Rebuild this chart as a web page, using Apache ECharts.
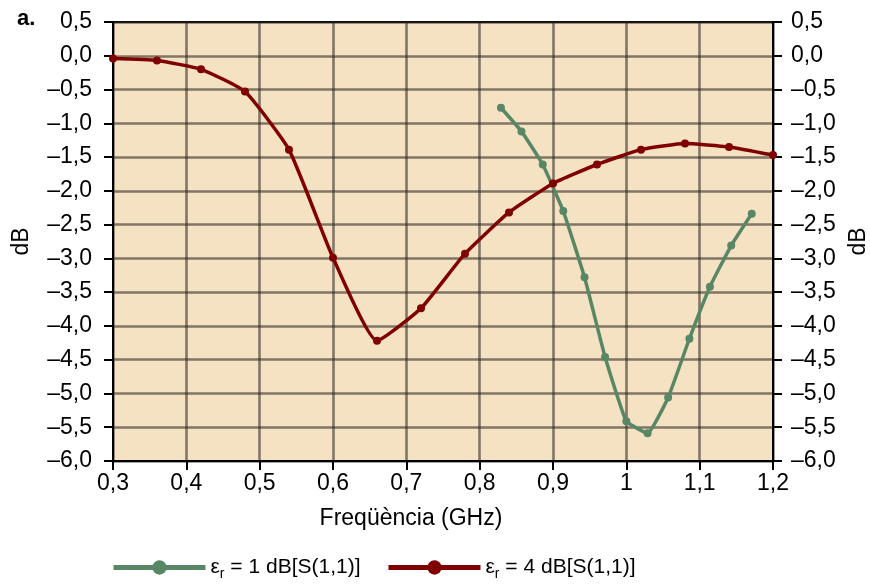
<!DOCTYPE html>
<html>
<head>
<meta charset="utf-8">
<script src="https://cdn.jsdelivr.net/npm/echarts@6/dist/echarts.min.js"></script>
<style>html,body{margin:0;padding:0;background:#fff}#c{width:870px;height:585px}</style>
</head>
<body>
<div id="c"></div>
<script>
// Data
const freqEr4 = [0.30, 0.36, 0.42, 0.48, 0.54, 0.60, 0.66, 0.72, 0.78, 0.84, 0.90, 0.96, 1.02, 1.08, 1.14, 1.20];
const dbEr4   = [-0.04, -0.07, -0.20, -0.53, -1.39, -2.99, -4.22, -3.74, -2.93, -2.32, -1.89, -1.61, -1.39, -1.30, -1.35, -1.47];
const freqEr1 = [0.829, 0.857, 0.886, 0.914, 0.943, 0.971, 1.000, 1.029, 1.057, 1.086, 1.114, 1.143, 1.171];
const dbEr1   = [-0.77, -1.12, -1.61, -2.30, -3.28, -4.46, -5.41, -5.59, -5.06, -4.19, -3.42, -2.81, -2.34];
const seriesNames = ['er1', 'er4'];
const legendText = {er1: ' = 1 dB[S(1,1)]', er4: ' = 4 dB[S(1,1)]'};
const xTitle = 'Freqüència (GHz)';
const yTitle = 'dB';

const FONT = '"Liberation Sans", Arial, sans-serif';
const FS = 23;
const fmtY = v => {
  const r = Math.round(v * 10) / 10;
  return (r < 0 ? '–' : '') + Math.abs(r).toFixed(1).replace('.', ',');
};
const fmtX = v => {
  const r = Math.round(v * 10) / 10;
  return Number.isInteger(r) ? String(r) : r.toFixed(1).replace('.', ',');
};
const pairs = (xs, ys) => xs.map((x, i) => [x, ys[i]]);
const gridLine = {show: true, lineStyle: {color: 'rgba(45,40,35,0.58)', width: 2.6}};

const yAxisBase = {
  type: 'value', min: -6, max: 0.5, interval: 0.5,
  name: yTitle, nameLocation: 'middle', nameRotate: 90,
  nameTextStyle: {fontFamily: FONT, fontSize: FS, color: '#000'},
  axisLine: {show: true, onZero: false, lineStyle: {color: '#000', width: 2}},
  axisTick: {show: true, inside: false, length: 9, lineStyle: {color: '#000', width: 2}},
  axisLabel: {formatter: fmtY, fontFamily: FONT, fontSize: FS, color: '#000'}
};

const legendRich = {
  a: {fontFamily: FONT, fontSize: 21, color: '#000'},
  s: {fontFamily: FONT, fontSize: 14, color: '#000', verticalAlign: 'bottom', padding: [13, 0, 0, 0]}
};
const legendFmt = name => '{a|ε}{s|r}{a|' + legendText[name] + '}';

const chart = echarts.init(document.getElementById('c'));
chart.setOption({
  animation: false,
  backgroundColor: '#fff',
  title: {text: 'a.', left: 12, top: 3, textStyle: {fontFamily: FONT, fontSize: 22, fontWeight: 'bold', color: '#000'}},
  grid: {left: 113, right: 97, top: 22, bottom: 124, containLabel: false, outerBoundsMode: 'none',
         show: true, backgroundColor: '#f5e2c3', borderColor: '#000', borderWidth: 2},
  xAxis: {
    type: 'value', min: 0.3, max: 1.2, interval: 0.1,
    name: xTitle, nameLocation: 'middle', nameGap: 46,
    nameTextStyle: {fontFamily: FONT, fontSize: FS, color: '#000', padding: [0, 64, 0, 0]},
    axisLine: {show: true, onZero: false, lineStyle: {color: '#000', width: 2}},
    axisTick: {show: true, inside: false, length: 9, lineStyle: {color: '#000', width: 2}},
    axisLabel: {formatter: fmtX, fontFamily: FONT, fontSize: FS, color: '#000', margin: 11},
    splitLine: gridLine
  },
  yAxis: [
    Object.assign({}, yAxisBase, {position: 'left', nameGap: 80, axisLabel: Object.assign({}, yAxisBase.axisLabel, {margin: 21}),
      splitLine: gridLine}),
    Object.assign({}, yAxisBase, {position: 'right', nameGap: 66, axisLabel: Object.assign({}, yAxisBase.axisLabel, {margin: 18}),
      splitLine: {show: false}})
  ],
  legend: [
    {data: [seriesNames[0]], left: 106, top: 552, itemWidth: 92, itemHeight: 18, formatter: legendFmt,
     textStyle: {rich: legendRich}, lineStyle: {width: 5}},
    {data: [seriesNames[1]], left: 381, top: 552, itemWidth: 92, itemHeight: 18, formatter: legendFmt,
     textStyle: {rich: legendRich}, lineStyle: {width: 5}}
  ],
  series: [
    {name: seriesNames[0], type: 'line', data: pairs(freqEr1, dbEr1), smooth: 0.12,
     symbol: 'circle', symbolSize: 8, color: '#588766',
     lineStyle: {width: 3.5, color: '#588766'}, itemStyle: {color: '#588766'}},
    {name: seriesNames[1], type: 'line', data: pairs(freqEr4, dbEr4), smooth: 0.15,
     symbol: 'circle', symbolSize: 8, color: '#800000',
     lineStyle: {width: 3.5, color: '#800000'}, itemStyle: {color: '#800000'}}
  ]
});
</script>
</body>
</html>
